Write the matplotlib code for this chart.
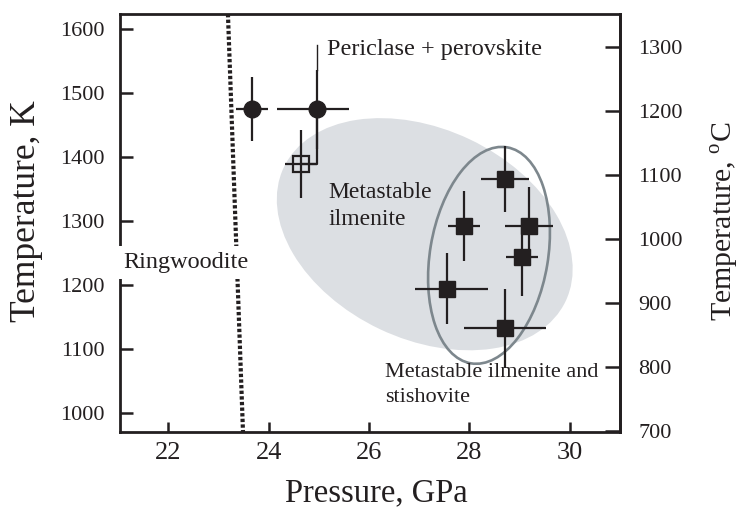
import matplotlib
matplotlib.use("Agg")
import matplotlib.pyplot as plt
from matplotlib.patches import Ellipse
from matplotlib.transforms import ScaledTranslation

plt.rcParams['font.family'] = ['Liberation Serif', 'DejaVu Serif']
plt.rcParams['mathtext.fontset'] = 'custom'
plt.rcParams['mathtext.rm'] = 'Liberation Serif'

INK = '#231f20'

# Periclase + perovskite runs (filled circles)
pv_P = [23.67, 24.96]
pv_T = [1475, 1475]
pv_Perr = [[0.32, 0.80], [0.32, 0.65]]
pv_Terr = [50, 62]

# Intermediate run (open square)
tr_P = [24.64]
tr_T = [1390]
tr_Perr = [0.32]
tr_Terr = [53]

# Metastable ilmenite + stishovite runs (filled squares)
il_P = [28.71, 27.89, 29.19, 29.04, 27.56, 28.71]
il_T = [1366, 1293, 1293, 1245, 1195, 1133]
il_Perr_lo = [0.48, 0.32, 0.48, 0.32, 0.64, 0.82]
il_Perr_hi = [0.48, 0.32, 0.48, 0.32, 0.82, 0.82]
il_Terr = [52, 55, 60, 61, 55, 62]

# Ringwoodite breakdown boundary
bnd_P = [23.19, 23.49]
bnd_T = [1624, 971]

# Field centres (P, T)
field_ilm = (27.11, 1280)
field_ilm_st = (28.39, 1247)

x_ticks = [22, 24, 26, 28, 30]
k_ticks = [1000, 1100, 1200, 1300, 1400, 1500, 1600]
c_ticks = [700, 800, 900, 1000, 1100, 1200, 1300]

fig = plt.figure(figsize=(7.43, 5.08), dpi=100)
ax = fig.add_axes([0.1615, 0.1496, 0.6730, 0.8228])
ax.set_xlim(21.04, 31.0)
ax.set_ylim(971, 1624)

def at_data(pt):
    return fig.dpi_scale_trans + ScaledTranslation(pt[0], pt[1], ax.transData)

# shaded metastable-ilmenite field
ax.add_patch(Ellipse((0, 0), 3.12, 2.10, angle=-25.4, transform=at_data(field_ilm),
                     facecolor='#dcdfe3', edgecolor='none', zorder=0))
# outlined ilmenite + stishovite field
ax.add_patch(Ellipse((0, 0), 1.18, 2.19, angle=-9.5, transform=at_data(field_ilm_st),
                     facecolor='none', edgecolor='#7d878d', lw=1.9, zorder=1))

# phase boundary
ax.plot(bnd_P, bnd_T, color=INK, lw=3.0, linestyle=(0, (0.8, 0.55)),
        dash_capstyle='butt', zorder=2)

eb = dict(fmt='none', ecolor=INK, elinewidth=1.6, capsize=0, zorder=3)

# connector between periclase run and open-square run
ax.plot([pv_P[1], pv_P[1], tr_P[0]], [pv_T[1], tr_T[0], tr_T[0]],
        color=INK, lw=1.6, zorder=3)
# leader to periclase label
ax.plot([pv_P[1], pv_P[1]], [pv_T[1] + pv_Terr[1], 1575], color=INK, lw=1.0, zorder=3)

ax.errorbar(pv_P, pv_T, xerr=pv_Perr, yerr=pv_Terr, **eb)
ax.plot(pv_P, pv_T, 'o', ms=12, color=INK, zorder=4)

ax.errorbar(tr_P, tr_T, xerr=tr_Perr, yerr=tr_Terr, **eb)
ax.plot(tr_P, tr_T, 's', ms=11, mfc='none', mec=INK, mew=1.6, zorder=4)

ax.errorbar(il_P, il_T, xerr=[il_Perr_lo, il_Perr_hi], yerr=il_Terr, **eb)
ax.plot(il_P, il_T, 's', ms=12, color=INK, zorder=4)

# labels
ax.text(25.16, 1560, 'Periclase + perovskite', fontsize=17.5, color=INK,
        va='baseline', ha='left', zorder=5)
ax.text(25.19, 1294, 'Metastable\nilmenite', fontsize=17, color=INK,
        va='baseline', ha='left', linespacing=1.4, zorder=5)
ax.text(26.32, 1018, 'Metastable ilmenite and\nstishovite', fontsize=16, color=INK,
        va='baseline', ha='left', linespacing=1.4, zorder=5)
ax.text(21.115, 1227, 'Ringwoodite', fontsize=17.5, color=INK, va='baseline', ha='left',
        zorder=10, clip_on=False,
        bbox=dict(facecolor='white', edgecolor='none', pad=4.5))

# axes styling
for s in ax.spines.values():
    s.set_linewidth(2.0)
    s.set_color(INK)
ax.set_xticks(x_ticks)
ax.set_yticks(k_ticks)
ax.tick_params(axis='x', direction='in', length=7, width=1.8, labelsize=19, pad=7,
               colors=INK)
ax.tick_params(axis='y', direction='in', length=9, width=1.8, labelsize=16, pad=11,
               colors=INK)
ax.set_xlabel('Pressure, GPa', fontsize=23.5, color=INK, labelpad=10)
ax.xaxis.label.set_x(0.513)
ax.set_ylabel('Temperature, K', fontsize=25.5, color=INK)
ax.yaxis.set_label_coords(-0.153, 0.529)

sec = ax.secondary_yaxis('right', functions=(lambda k: k - 273.15, lambda c: c + 273.15))
sec.set_yticks(c_ticks)
sec.spines['right'].set_linewidth(2.0)
sec.spines['right'].set_color(INK)
sec.tick_params(direction='in', length=11, width=1.8, labelsize=16, pad=13, colors=INK)
sec.set_ylabel('Temperature, $^{\\mathrm{o}}$C', fontsize=21.5, color=INK)
sec.yaxis.set_label_coords(1.178, 0.505, transform=ax.transAxes)

fig.savefig('out.png', dpi=100)
